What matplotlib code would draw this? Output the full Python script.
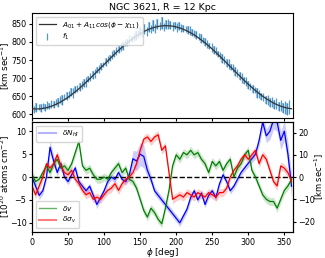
import numpy as np
import matplotlib
matplotlib.use("Agg")
import matplotlib.pyplot as plt
from matplotlib.lines import Line2D
from matplotlib.legend import Legend

# top panel: velocity field f1 along the ring, and harmonic fit parameters
phi_top = np.arange(0, 360, 3)
f1 = [618, 614, 619, 621, 617, 624, 620, 626, 623, 630, 628, 635, 633, 642, 640, 648, 651, 655, 662, 660,
      668, 671, 676, 681, 687, 690, 698, 702, 709, 713, 722, 726, 733, 738, 745, 751, 756, 763, 768, 775,
      779, 786, 790, 797, 799, 806, 808, 815, 818, 822, 828, 824, 835, 829, 841, 836, 845, 838, 849, 843,
      852, 841, 848, 850, 846, 843, 846, 840, 843, 839, 838, 836, 833, 831, 826, 823, 818, 815, 810, 805,
      800, 795, 789, 785, 778, 774, 767, 762, 755, 750, 742, 739, 731, 727, 718, 714, 706, 701, 694, 690,
      681, 678, 670, 668, 659, 656, 650, 648, 641, 640, 633, 634, 627, 629, 622, 624, 617, 620, 614, 620]
f1_err = [14, 10, 12, 9, 11, 8, 10, 12, 9, 11, 10, 8, 12, 10, 13, 9, 11, 10, 12, 14,
          10, 9, 11, 12, 10, 13, 9, 11, 10, 12, 9, 11, 10, 8, 12, 10, 9, 11, 10, 12,
          9, 10, 11, 8, 10, 12, 9, 11, 13, 10, 12, 11, 14, 12, 13, 10, 15, 12, 14, 11,
          16, 12, 13, 14, 11, 12, 10, 13, 11, 12, 10, 9, 11, 12, 10, 9, 11, 10, 12, 9,
          10, 11, 9, 12, 10, 11, 9, 10, 12, 11, 10, 13, 9, 11, 12, 10, 11, 13, 10, 12,
          11, 10, 12, 9, 13, 11, 10, 12, 11, 13, 12, 14, 12, 15, 13, 16, 14, 18, 17, 20]
A01, A11, chi11 = 730.0, 115.0, 186.0

# bottom panel: residual profiles
phi_bot = np.arange(0, 361, 5)
dN = [0, -2, -4, -3, 0, 6.5, 3.5, 1, 3, 0, -1, 0.5, 2, -1, -2, -3, -2, -4, -6, -4.5,
      -3, -1, 0, -0.5, 1, -0.5, -1, 0.5, 4, 3.5, 5, 4.5, 1.5, -0.5, -3, -4, -5, -6, -7, -8,
      -9, -10, -8.5, -7, -4.5, -3, -5, -3.5, -6, -4, -3, -4.5, -1.5, 0.5, -1, -3, -2, -0.5, 1, 2,
      3, 4, 5, 8, 12, 9, 10, 12.5, 12, 8, 10, 5, -2]
dN_err = [0.8, 0.8, 0.9, 0.8, 0.8, 1.5, 1.2, 0.8, 0.8, 0.7, 0.7, 0.7, 0.8, 0.7, 0.7, 0.7, 0.7, 0.8, 0.9, 0.8,
          0.8, 0.7, 0.7, 0.7, 0.7, 0.7, 0.8, 1.0, 1.8, 2.2, 2.5, 2.5, 1.5, 1.0, 0.9, 0.8, 0.8, 0.8, 0.8, 0.8,
          0.8, 0.8, 0.8, 0.8, 0.8, 0.7, 0.7, 0.7, 0.7, 0.7, 0.7, 0.7, 0.7, 0.7, 0.7, 0.7, 0.7, 0.7, 0.7, 0.8,
          0.8, 0.9, 1.0, 1.2, 1.5, 1.5, 1.8, 2.0, 2.0, 2.0, 2.2, 2.5, 2.5]
dv = [1, -2, -1, 2, 5, 2, 6, 8, 4, 5, 3, 6, 11, 16, 5, 3, 4, 1, -1, -1,
      0, -1, 2, 4, 6, 2, 4, -1, -2, -5, -10, -15, -18, -14, -16, -19, -21, -14, -6, 5,
      10, 8, 11, 10, 12, 10, 11, 8, 6, 2, 7, 5, 7, 3, 6, 8, 0, 4, 6, 10,
      12, 3, 0, -4, -8, -10, -11, -11, -14, -10, -6, -4, -1]
dsig = [-4, -8, -4, 0, 6, 4, 6, 10, 5, 2, 1, 3, -1, -3, -6, -8, -7, -10, -9, -10,
        -8, -6, -5, -3, -6, -3, -1, 0, 2, 6, 12, 17, 18, 16, 18, 19, 12, 14, 2, -10,
        -9, -8, -9, -7, -8, -9, -7, -8, -9, -7, -8, -9, -7, -7, -5, 0, 3, 5, 8, 10,
        8, 10, 12, 6, 10, 8, 3, -2, -4, 5, 4, 2, -2]
v_err = 1.8

fig = plt.figure(figsize=(3.25, 2.58), dpi=100)
ax1 = fig.add_axes([0.0985, 0.5426, 0.803, 0.407])
ax2 = fig.add_axes([0.0985, 0.1008, 0.803, 0.426])
ax3 = ax2.twinx()

fs = 5.8
lfs = 6.3
phi_fit = np.linspace(0, 360, 361)
ax1.plot(phi_fit, A01 + A11 * np.cos(np.radians(phi_fit - chi11)), color='0.2', lw=0.9,
         label=r'$A_{01}+A_{11}cos(\phi-\chi_{11})$', zorder=3)
ax1.errorbar(phi_top[::2], f1[::2], yerr=f1_err[::2], fmt='none', ecolor='#9cc3e6', elinewidth=1.6, alpha=0.9)
ax1.errorbar(phi_top, f1, yerr=f1_err, fmt='none', ecolor='C0', elinewidth=0.9, alpha=0.75,
             label=r'$f_1$')
ax1.set_xlim(0, 362)
ax1.set_ylim(590, 880)
ax1.set_yticks([600, 650, 700, 750, 800, 850])
ax1.set_xticks(np.arange(0, 360, 50))
ax1.tick_params(labelsize=fs, labelbottom=False, length=2.5, pad=1.5)
ax1.set_ylabel(r'[km sec$^{-1}$]', fontsize=lfs)
ax1.yaxis.set_label_coords(-0.077, 0.5)
ax1.set_title('NGC 3621, R = 12 Kpc', fontsize=6.8, pad=2)
ax1.legend(loc='upper left', fontsize=5.3, handlelength=2.4, borderpad=0.4, labelspacing=0.35)

ax2.fill_between(phi_bot, np.array(dN) - np.array(dN_err), np.array(dN) + np.array(dN_err),
                 color='blue', alpha=0.2, lw=0)
ax2.plot(phi_bot, dN, color='blue', lw=0.9)
ax3.fill_between(phi_bot, np.array(dv) - v_err, np.array(dv) + v_err, color='green', alpha=0.2, lw=0)
ax3.plot(phi_bot, dv, color='green', lw=0.9)
ax3.fill_between(phi_bot, np.array(dsig) - v_err, np.array(dsig) + v_err, color='red', alpha=0.2, lw=0)
ax3.plot(phi_bot, dsig, color='red', lw=0.9)
ax2.axhline(0, color='k', ls='--', lw=1.0, zorder=5)

ax2.set_xlim(0, 362)
ax2.set_ylim(-12, 12)
ax3.set_ylim(-24.7, 24.7)
ax2.set_xticks(np.arange(0, 360, 50))
ax2.set_yticks([-10, -5, 0, 5, 10])
ax3.set_yticks([-20, -10, 0, 10, 20])
ax2.tick_params(labelsize=fs, length=2.5, pad=1.5)
ax3.tick_params(labelsize=fs, length=2.5, pad=1.5)
ax2.set_xlabel(r'$\phi$ [deg]', fontsize=lfs)
ax2.xaxis.set_label_coords(0.5, -0.125)
ax2.set_ylabel(r'[10$^{20}$ atoms cm$^{-2}$]', fontsize=lfs)
ax2.yaxis.set_label_coords(-0.077, 0.5)
ax3.set_ylabel(r'[km sec$^{-1}$]', fontsize=6.0)
ax3.yaxis.set_label_coords(1.077, 0.5)

h1 = [Line2D([], [], color='blue', lw=1.5, alpha=0.3)]
ax3.legend(h1, [r'$\delta N_{HI}$'], loc='upper left', fontsize=5.3, handlelength=2.4,
           borderpad=0.4)
h2 = [Line2D([], [], color='green', lw=1, alpha=0.6), Line2D([], [], color='red', lw=1.5, alpha=0.5)]
leg2 = Legend(ax3, h2, [r'$\delta v$', r'$\delta\sigma_v$'], loc='lower left', fontsize=5.3,
              handlelength=2.4, borderpad=0.4, labelspacing=0.35)
ax3.add_artist(leg2)

fig.savefig('out.png', dpi=100)
